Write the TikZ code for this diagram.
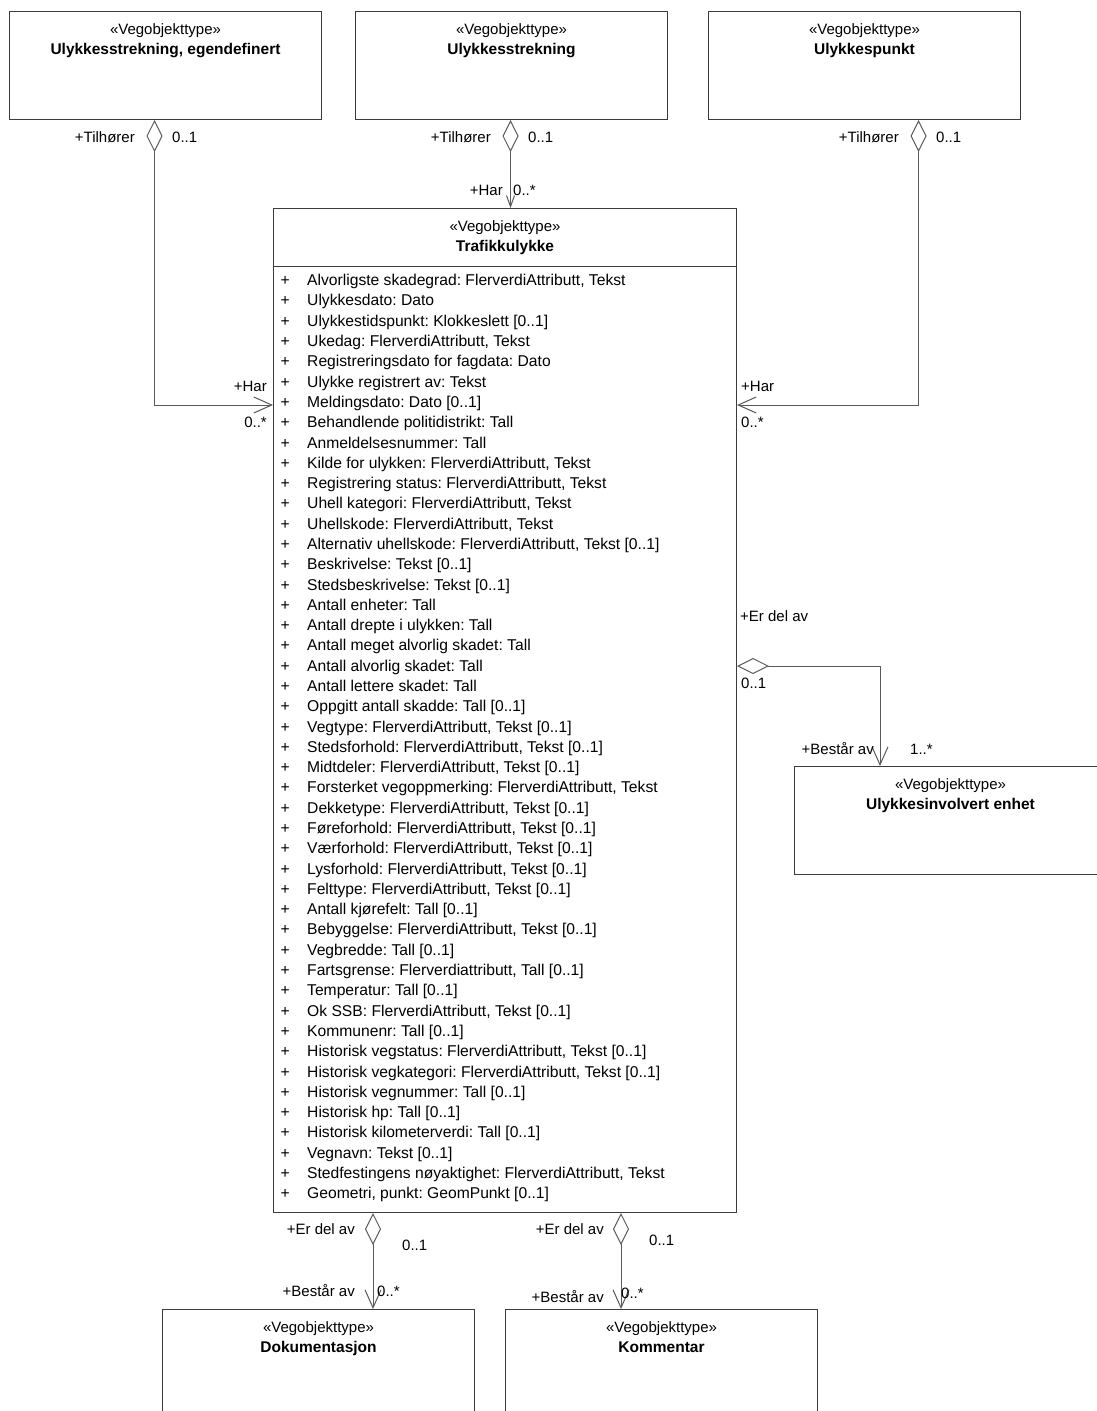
\documentclass[tikz,border=0pt]{standalone}
\usepackage{fontspec}
\setmainfont{Liberation Sans}
\usetikzlibrary{arrows.meta}

\definecolor{boxline}{HTML}{3C3C3C}
\definecolor{linkline}{HTML}{5A5A5A}

\begin{document}
\frenchspacing
\begin{tikzpicture}[x=1pt,y=-1pt,
  class box/.style={draw=boxline,line width=1pt,fill=white,anchor=north west,
    inner sep=0pt,minimum width=312pt,minimum height=108pt},
  stereo/.style={anchor=base,inner sep=0pt,font=\fontsize{15}{18}\selectfont},
  cname/.style={anchor=base,inner sep=0pt,font=\fontsize{15.5}{18}\selectfont\bfseries},
  attr/.style={anchor=base west,inner sep=0pt,font=\fontsize{15.65}{20}\selectfont},
  role/.style={inner sep=0pt,font=\fontsize{15}{18}\selectfont},
  aggr/.style={draw=linkline,line width=1pt,
    {Diamond[open,length=32pt,width=16pt]}-{Straight Barb[length=18pt,width=16pt]}}]

  \path[use as bounding box,fill=white] (0,0) rectangle (1097,1411);

  % classes
  \node[class box] (strekEgen) at (9,11) {};
  \node[class box] (strekning) at (355,11) {};
  \node[class box] (punkt) at (708,11) {};
  \node[class box,minimum width=463pt,minimum height=1004pt] (ulykke) at (273,208) {};
  \node[class box] (enhet) at (794,766) {};
  \node[class box] (dok) at (162,1309) {};
  \node[class box] (komm) at (505,1309) {};

  \foreach \cls/\title in {strekEgen/{Ulykkesstrekning, egendefinert},
      strekning/Ulykkesstrekning, punkt/Ulykkespunkt, ulykke/Trafikkulykke,
      enhet/Ulykkesinvolvert enhet, dok/Dokumentasjon, komm/Kommentar} {
    \node[stereo] (\cls-st) at ([yshift=-23.7pt]\cls.north) {«Vegobjekttype»};
    \node[cname] (\cls-nm) at ([yshift=-43.7pt]\cls.north) {\title};
  }

  \draw[boxline,line width=1pt] ([yshift=-58pt]ulykke.north west) -- ([yshift=-58pt]ulykke.north east);

  % attributes of Trafikkulykke
  \foreach \a [count=\n from 0] in {
      {Alvorligste skadegrad: FlerverdiAttributt, Tekst},
      {Ulykkesdato: Dato},
      {Ulykkestidspunkt: Klokkeslett [0..1]},
      {Ukedag: FlerverdiAttributt, Tekst},
      {Registreringsdato for fagdata: Dato},
      {Ulykke registrert av: Tekst},
      {Meldingsdato: Dato [0..1]},
      {Behandlende politidistrikt: Tall},
      {Anmeldelsesnummer: Tall},
      {Kilde for ulykken: FlerverdiAttributt, Tekst},
      {Registrering status: FlerverdiAttributt, Tekst},
      {Uhell kategori: FlerverdiAttributt, Tekst},
      {Uhellskode: FlerverdiAttributt, Tekst},
      {Alternativ uhellskode: FlerverdiAttributt, Tekst [0..1]},
      {Beskrivelse: Tekst [0..1]},
      {Stedsbeskrivelse: Tekst [0..1]},
      {Antall enheter: Tall},
      {Antall drepte i ulykken: Tall},
      {Antall meget alvorlig skadet: Tall},
      {Antall alvorlig skadet: Tall},
      {Antall lettere skadet: Tall},
      {Oppgitt antall skadde: Tall [0..1]},
      {Vegtype: FlerverdiAttributt, Tekst [0..1]},
      {Stedsforhold: FlerverdiAttributt, Tekst [0..1]},
      {Midtdeler: FlerverdiAttributt, Tekst [0..1]},
      {Forsterket vegoppmerking: FlerverdiAttributt, Tekst},
      {Dekketype: FlerverdiAttributt, Tekst [0..1]},
      {Føreforhold: FlerverdiAttributt, Tekst [0..1]},
      {Værforhold: FlerverdiAttributt, Tekst [0..1]},
      {Lysforhold: FlerverdiAttributt, Tekst [0..1]},
      {Felttype: FlerverdiAttributt, Tekst [0..1]},
      {Antall kjørefelt: Tall [0..1]},
      {Bebyggelse: FlerverdiAttributt, Tekst [0..1]},
      {Vegbredde: Tall [0..1]},
      {Fartsgrense: Flerverdiattributt, Tall [0..1]},
      {Temperatur: Tall [0..1]},
      {Ok SSB: FlerverdiAttributt, Tekst [0..1]},
      {Kommunenr: Tall [0..1]},
      {Historisk vegstatus: FlerverdiAttributt, Tekst [0..1]},
      {Historisk vegkategori: FlerverdiAttributt, Tekst [0..1]},
      {Historisk vegnummer: Tall [0..1]},
      {Historisk hp: Tall [0..1]},
      {Historisk kilometerverdi: Tall [0..1]},
      {Vegnavn: Tekst [0..1]},
      {Stedfestingens nøyaktighet: FlerverdiAttributt, Tekst},
      {Geometri, punkt: GeomPunkt [0..1]}}
    \node[attr] (attr\n) at (280.3,285.7+20.29*\n) {\makebox[26.7pt][l]{+}\a};

  % associations
  \draw[aggr] ([xshift=-11pt]strekEgen.south) |- ([yshift=-197pt]ulykke.north west);
  \draw[aggr,{Diamond[open,length=32pt,width=16pt]}-{Straight Barb[length=11pt,width=8pt]}]
    ([xshift=-1pt]strekning.south) -- ([xshift=-1pt]strekning.south |- ulykke.north);
  \draw[aggr] ([xshift=54pt]punkt.south) |- ([yshift=-197pt]ulykke.north east);
  \draw[aggr] ([yshift=-458pt]ulykke.north east) -| ([xshift=86pt]enhet.north west);
  \draw[aggr] ([xshift=100pt]ulykke.south west) -- ([xshift=100pt]ulykke.south west |- dok.north);
  \draw[aggr] ([xshift=348pt]ulykke.south west) -- ([xshift=348pt]ulykke.south west |- komm.north);

  % role names and multiplicities
  \node[role,anchor=base east] (r1) at (135,142.7) {+Tilhører};
  \node[role,anchor=base west] (m1) at (172,142.7) {0..1};
  \node[role,anchor=base east] (r2) at (491,142.7) {+Tilhører};
  \node[role,anchor=base west] (m2) at (528,142.7) {0..1};
  \node[role,anchor=base east] (r3) at (899,142.7) {+Tilhører};
  \node[role,anchor=base west] (m3) at (936,142.7) {0..1};
  \node[role,anchor=base east] (r4) at (503,195.7) {+Har};
  \node[role,anchor=base west] (m4) at (513,195.7) {0..*};
  \node[role,anchor=base east] (r5) at (267,391.7) {+Har};
  \node[role,anchor=base east] (m5) at (267,427.7) {0..*};
  \node[role,anchor=base west] (r6) at (741,391.7) {+Har};
  \node[role,anchor=base west] (m6) at (741,427.7) {0..*};
  \node[role,anchor=base west] (r7) at (740,621.7) {+Er del av};
  \node[role,anchor=base west] (m7) at (741,688.7) {0..1};
  \node[role,anchor=base east] (r8) at (874,754.7) {+Består av};
  \node[role,anchor=base west] (m8) at (910,754.7) {1..*};
  \node[role,anchor=base east] (r9) at (355,1234.7) {+Er del av};
  \node[role,anchor=base west] (m9) at (402,1250.7) {0..1};
  \node[role,anchor=base east] (r10) at (355,1296.7) {+Består av};
  \node[role,anchor=base west] (m10) at (377,1296.7) {0..*};
  \node[role,anchor=base east] (r11) at (604,1234.7) {+Er del av};
  \node[role,anchor=base west] (m11) at (649,1245.7) {0..1};
  \node[role,anchor=base east] (r12) at (604,1302.7) {+Består av};
  \node[role,anchor=base west] (m12) at (621,1298.7) {0..*};
\end{tikzpicture}
\end{document}
